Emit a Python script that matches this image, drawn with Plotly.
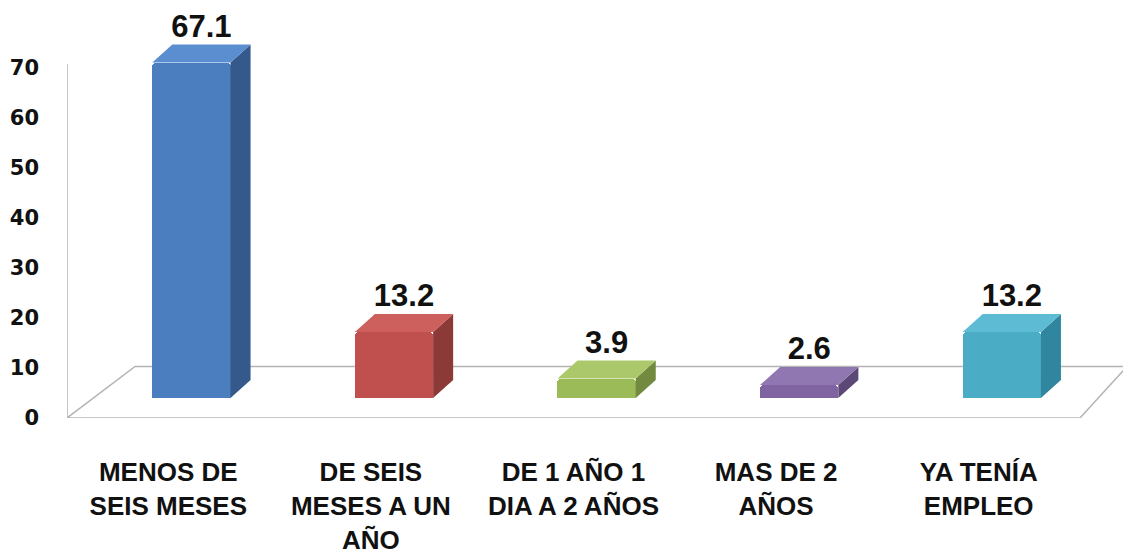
import plotly.graph_objects as go

# ---- data ----
categories = ["MENOS DE<br>SEIS MESES", "DE SEIS<br>MESES A UN<br>AÑO", "DE 1 AÑO 1<br>DIA A 2 AÑOS",
              "MAS DE 2<br>AÑOS", "YA TENÍA<br>EMPLEO"]
values = [67.1, 13.2, 3.9, 2.6, 13.2]
value_labels = ["67.1", "13.2", "3.9", "2.6", "13.2"]
y_ticks = [0, 10, 20, 30, 40, 50, 60, 70]

front_colors = ["#4A7EBE", "#C0504D", "#9BBB59", "#8064A2", "#4BACC6"]
top_colors = ["#5A8ED0", "#CD605D", "#ABC96B", "#9077B2", "#5DBBD3"]
side_colors = ["#35598A", "#8C3A38", "#728A3F", "#5C4877", "#2F869E"]

# ---- pseudo-3D geometry (in axis units) ----
shift = 0.114        # bars stand mid-depth on the floor
half_w = 0.193       # half width of the front face
dx, dy = 0.099, 3.6  # depth offset of the extrusion (x units, y2 units)

n = len(values)
xc = [i + shift for i in range(n)]

fig = go.Figure()

# side and top faces
for i, v in enumerate(values):
    x0, x1 = xc[i] - half_w, xc[i] + half_w
    fig.add_trace(go.Scatter(
        x=[x1, x1 + dx, x1 + dx, x1, x1], y=[0, dy, v + dy, v, 0],
        fill="toself", fillcolor=side_colors[i], mode="lines",
        line=dict(width=0, color=side_colors[i]), yaxis="y2",
        showlegend=False, hoverinfo="skip"))
    fig.add_trace(go.Scatter(
        x=[x0, x1, x1 + dx, x0 + dx, x0], y=[v, v, v + dy, v + dy, v],
        fill="toself", fillcolor=top_colors[i], mode="lines",
        line=dict(width=0, color=top_colors[i]), yaxis="y2",
        showlegend=False, hoverinfo="skip"))

# front faces
fig.add_trace(go.Bar(
    x=xc, y=values, width=2 * half_w, yaxis="y2",
    marker=dict(color=front_colors, line=dict(width=0), cornerradius=4),
    showlegend=False))

# value labels
fig.add_trace(go.Scatter(
    x=[c + dx / 2 for c in xc], y=[v + dy for v in values], yaxis="y2",
    mode="text", text=value_labels, textposition="top center",
    textfont=dict(family="Liberation Sans, Arial", size=31, color="#111111", weight="bold"),
    showlegend=False, hoverinfo="skip", cliponaxis=False))

# floor outline and vertical axis line
floor_back = 10.3
fig.add_shape(type="path",
              path=f"M -0.5 0 L -0.164 {floor_back} L 4.732 {floor_back} L 4.5 0 Z",
              xref="x", yref="y", line=dict(color="#B4B4B4", width=1.5),
              fillcolor="rgba(0,0,0,0)", layer="below")
fig.add_shape(type="line", x0=-0.5, x1=-0.5, y0=0, y1=max(y_ticks) + 0.8,
              xref="x", yref="y", line=dict(color="#B4B4B4", width=1.5), layer="below")

# the page body adds an 8px margin, so the figure is 8px smaller than the window
fig.update_layout(
    width=1123, height=552,
    margin=dict(l=59, r=4, t=0, b=142),
    paper_bgcolor="white", plot_bgcolor="white",
    bargap=0,
    xaxis=dict(range=[-0.5, 4.732], tickvals=list(range(n)), ticktext=categories,
               showgrid=False, zeroline=False, showline=False, ticks="",
               ticklabelstandoff=36,
               tickfont=dict(family="Liberation Sans, Arial", size=26, color="#111111",
                             weight="bold")),
    yaxis=dict(range=[0, 82], tickvals=y_ticks, showgrid=False, zeroline=False,
               showline=False, ticks="",
               ticklabelstandoff=27,
               tickfont=dict(family="DejaVu Sans", size=21, color="#111111", weight="bold")),
    yaxis2=dict(range=[-4, 78], overlaying="y", visible=False),
)

fig.write_html("out.html")
